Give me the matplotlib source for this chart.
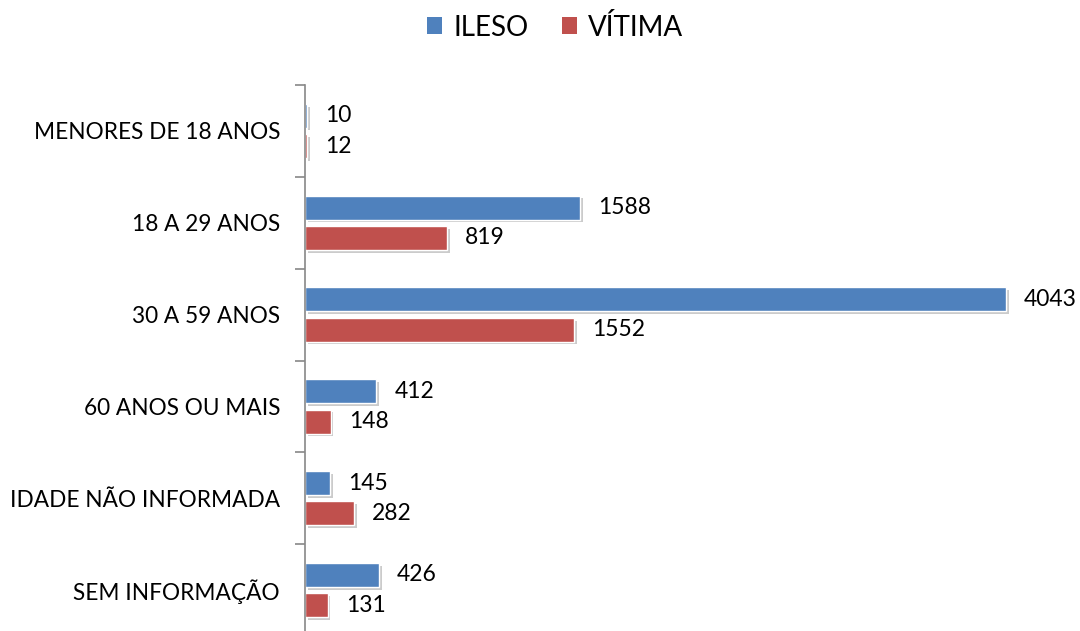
import matplotlib
matplotlib.use("Agg")
import matplotlib.pyplot as plt
import matplotlib.patheffects as pe
from matplotlib.patches import Patch
import numpy as np

plt.rcParams['font.family'] = ['Lato', 'DejaVu Sans']

categorias = ["MENORES DE 18 ANOS", "18 A 29 ANOS", "30 A 59 ANOS",
              "60 ANOS OU MAIS", "IDADE NÃO INFORMADA", "SEM INFORMAÇÃO"]
ileso = [10, 1588, 4043, 412, 145, 426]
vitima = [12, 819, 1552, 148, 282, 131]

azul = "#4F81BD"
vermelho = "#C0504D"

fig = plt.figure(figsize=(10.8, 6.31), dpi=100)
# eixo: x=305px .. ; y de 85px ate abaixo da figura
ax = fig.add_axes([305 / 1080, -5 / 631, 763 / 1080, (631 - 85 + 5) / 631])

y = np.arange(len(categorias))
h = 0.26
off = 0.165
sombra = [pe.SimplePatchShadow(offset=(2, -2), shadow_rgbFace="#999999", alpha=0.5), pe.Normal()]

b1 = ax.barh(y - off, ileso, height=h, color=azul, edgecolor="white", linewidth=1,
             path_effects=sombra)
b2 = ax.barh(y + off, vitima, height=h, color=vermelho, edgecolor="white", linewidth=1,
             path_effects=sombra)

for barras, vals in ((b1, ileso), (b2, vitima)):
    for b, v in zip(barras, vals):
        ax.annotate(str(v), (b.get_width(), b.get_y() + b.get_height() / 2),
                    xytext=(18, 0), textcoords="offset pixels",
                    va="center", ha="left", fontsize=16.5, color="black")

ax.set_xlim(0, 4400)
ax.set_ylim(len(categorias) - 0.5, -0.5)
ax.set_yticks(y)
ax.set_yticklabels(categorias, fontsize=16.3)
ax.set_yticks(np.arange(-0.5, len(categorias) + 0.5, 1), minor=True)
ax.tick_params(axis="y", which="major", length=0, pad=18)
ax.tick_params(axis="y", which="minor", length=7, color="#888888", width=1.2)
ax.set_xticks([])
for s in ("top", "right", "bottom"):
    ax.spines[s].set_visible(False)
ax.spines["left"].set_color("#888888")
ax.spines["left"].set_linewidth(1.2)

handles = [Patch(facecolor=azul, label="ILESO"), Patch(facecolor=vermelho, label="VÍTIMA")]
fig.legend(handles=handles, loc="center", bbox_to_anchor=(555 / 1080, 1 - 27 / 631), ncol=2,
           frameon=False, fontsize=20, handlelength=0.55, handleheight=0.55,
           handletextpad=0.4, columnspacing=1.2)

fig.savefig("out.png", dpi=100)
